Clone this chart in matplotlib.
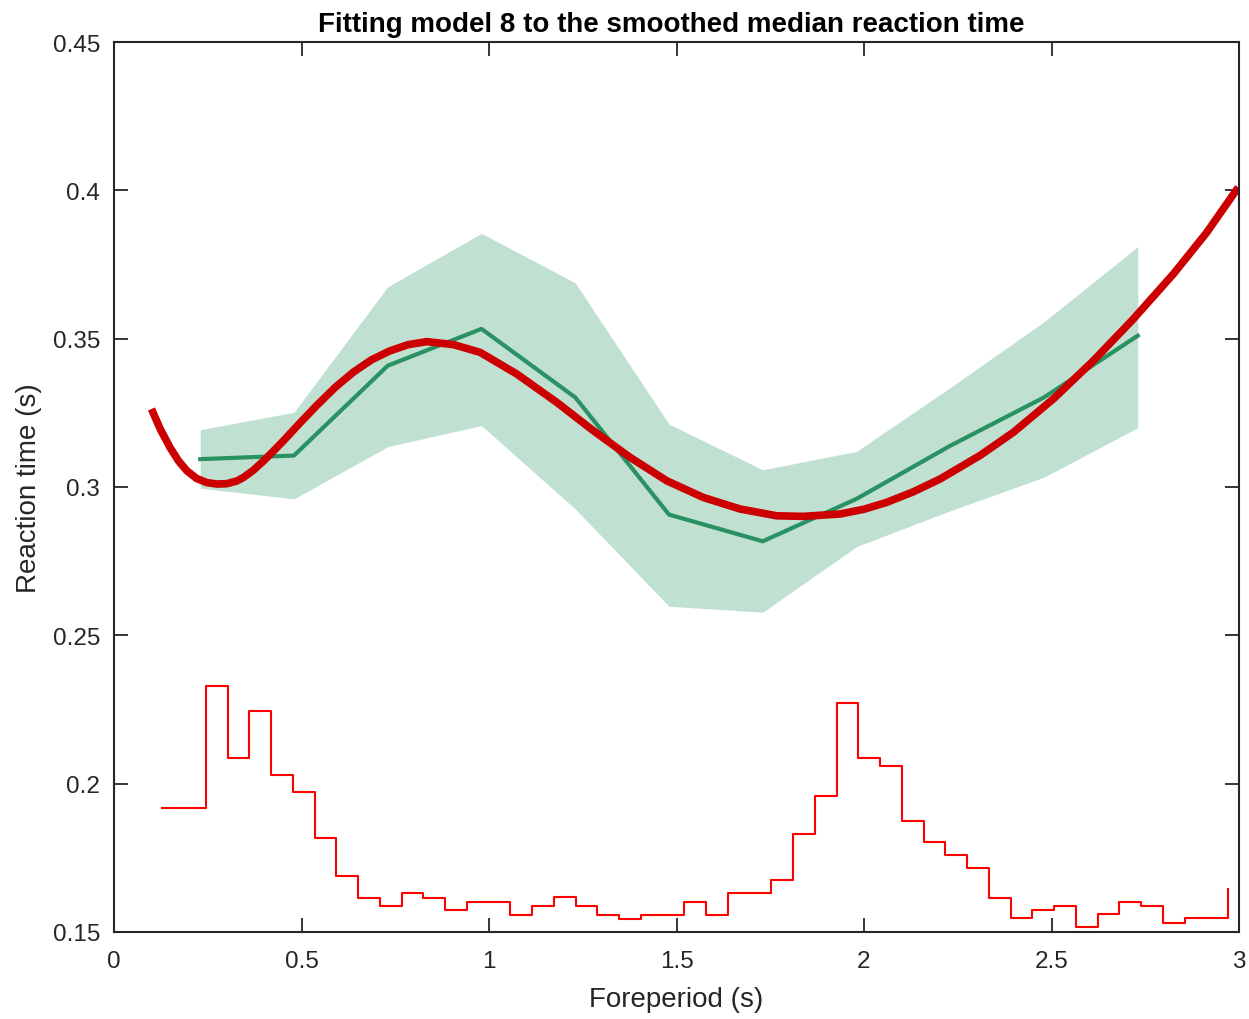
import numpy as np
import matplotlib.pyplot as plt

plt.rcParams['font.family'] = ['Liberation Sans', 'DejaVu Sans']

# smoothed median RT per foreperiod bin
fp = [0.23, 0.48, 0.73, 0.98, 1.23, 1.48, 1.73, 1.98, 2.23, 2.48, 2.73]
rt_med = [0.3094, 0.3106, 0.3409, 0.3533, 0.3302, 0.2907, 0.2817, 0.2960, 0.3139, 0.3302, 0.3510]
rt_low = [0.2996, 0.2960, 0.3136, 0.3207, 0.2926, 0.2598, 0.2578, 0.2799, 0.2920, 0.3033, 0.3200]
rt_high = [0.3193, 0.3252, 0.3675, 0.3855, 0.3688, 0.3212, 0.3058, 0.3120, 0.3335, 0.3557, 0.3810]

# model 8 fit
fit_x = [0.100, 0.123, 0.149, 0.172, 0.194, 0.220, 0.247, 0.274, 0.300, 0.327,
         0.345, 0.372, 0.398, 0.425, 0.452, 0.496, 0.540, 0.589, 0.638, 0.687,
         0.736, 0.785, 0.834, 0.905, 0.976, 1.074, 1.180, 1.278, 1.376, 1.474,
         1.571, 1.669, 1.767, 1.838, 1.936, 2.000, 2.060, 2.130, 2.203, 2.309,
         2.398, 2.505, 2.612, 2.718, 2.825, 2.914, 2.998]
fit_y = [0.3263, 0.3196, 0.3134, 0.3088, 0.3055, 0.3029, 0.3015, 0.3010, 0.3011, 0.3020,
         0.3032, 0.3057, 0.3087, 0.3121, 0.3156, 0.3216, 0.3274, 0.3335, 0.3387, 0.3429,
         0.3459, 0.3480, 0.3490, 0.3480, 0.3454, 0.3381, 0.3286, 0.3190, 0.3100, 0.3021,
         0.2965, 0.2926, 0.2903, 0.2901, 0.2909, 0.2925, 0.2948, 0.2983, 0.3027, 0.3106,
         0.3184, 0.3297, 0.3426, 0.3566, 0.3718, 0.3858, 0.4010]

# foreperiod distribution (scaled, drawn as stairs)
hist_x = [0.129, 0.187, 0.245, 0.303, 0.361, 0.419, 0.477, 0.535, 0.593, 0.651,
          0.709, 0.767, 0.825, 0.883, 0.941, 0.999, 1.057, 1.115, 1.173, 1.231,
          1.289, 1.347, 1.405, 1.463, 1.521, 1.579, 1.637, 1.695, 1.753, 1.811,
          1.869, 1.927, 1.985, 2.043, 2.101, 2.159, 2.217, 2.275, 2.333, 2.391,
          2.449, 2.507, 2.565, 2.623, 2.681, 2.739, 2.797, 2.855, 2.913, 2.971]
hist_y = [0.1917, 0.1917, 0.2330, 0.2088, 0.2245, 0.2029, 0.1973, 0.1816, 0.1688, 0.1616,
          0.1588, 0.1630, 0.1616, 0.1575, 0.1602, 0.1602, 0.1558, 0.1588, 0.1617, 0.1588,
          0.1558, 0.1545, 0.1558, 0.1558, 0.1602, 0.1558, 0.1630, 0.1630, 0.1674, 0.1831,
          0.1960, 0.2273, 0.2088, 0.2059, 0.1873, 0.1802, 0.1760, 0.1716, 0.1616, 0.1546,
          0.1575, 0.1588, 0.1517, 0.1560, 0.1602, 0.1588, 0.1530, 0.1546, 0.1546, 0.1645]

fig = plt.figure(figsize=(12.49, 10.20), dpi=100)
ax = fig.add_axes([114/1249, 87/1020, 1125/1249, 890/1020])

ax.fill_between(fp, rt_low, rt_high, color='#c0e0d2', linewidth=0)
ax.plot(fp, rt_med, color='#2a9163', linewidth=3)
ax.plot(fit_x, fit_y, color='#cc0000', linewidth=5.5, solid_capstyle='butt',
        solid_joinstyle='round')
ax.plot(hist_x, hist_y, color='#ff0000', linewidth=1.5, drawstyle='steps-post')

ax.set_xlim(0, 3)
ax.set_ylim(0.15, 0.45)
ax.set_xticks([0, 0.5, 1, 1.5, 2, 2.5, 3])
ax.set_xticklabels(['0', '0.5', '1', '1.5', '2', '2.5', '3'])
ax.set_yticks([0.15, 0.2, 0.25, 0.3, 0.35, 0.4, 0.45])
ax.set_yticklabels(['0.15', '0.2', '0.25', '0.3', '0.35', '0.4', '0.45'])
ax.tick_params(axis='x', pad=13)
ax.tick_params(axis='y', pad=10)
ax.tick_params(direction='in', length=10, width=1.3, top=True, right=True,
               labelsize=17.5, colors='#262626')
for s in ax.spines.values():
    s.set_linewidth(1.5)
    s.set_color('#262626')

ax.set_xlabel('Foreperiod (s)', fontsize=20, color='#262626', labelpad=10)
ax.set_ylabel('Reaction time (s)', fontsize=20, color='#262626', labelpad=8)
ax.set_title('Fitting model 8 to the smoothed median reaction time',
             fontsize=20, fontweight='bold', pad=8, x=0.495)

fig.savefig('out.png', dpi=100)
